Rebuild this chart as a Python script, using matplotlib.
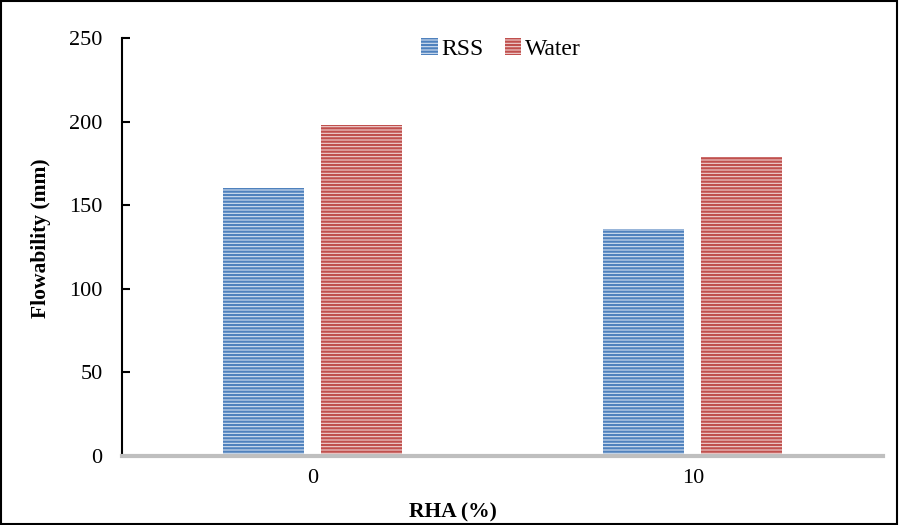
import matplotlib.pyplot as plt
from matplotlib.patches import Rectangle
import numpy as np

# dados
categories = ["0", "10"]
rss = [160, 136]
water = [198, 179]
yticks = [0, 50, 100, 150, 200, 250]

plt.rcParams['font.family'] = ['Liberation Serif', 'DejaVu Serif']
plt.rcParams['hatch.linewidth'] = 1.6

fig = plt.figure(figsize=(8.99, 5.25), dpi=100)
ax = fig.add_axes([0.1357, 0.1314, 0.8465, 0.7962])

x = np.arange(len(categories))
w = 0.213
off = 0.129

b1 = ax.bar(x - off, rss, w, color='#d3e0f0', edgecolor='#4f81bd', hatch='-----',
            linewidth=0, label='RSS')
b2 = ax.bar(x + off, water, w, color='#f0d2d1', edgecolor='#c0504d', hatch='-----',
            linewidth=0, label='Water')

ax.set_xlim(-0.5, 1.5)
ax.set_ylim(0, 250)
ax.set_yticks(yticks)
ax.set_xticks(x)
ax.set_xticklabels(categories)

ax.spines['top'].set_visible(False)
ax.spines['right'].set_visible(False)
ax.spines['left'].set_linewidth(1.5)
ax.spines['bottom'].set_color('#bfbfbf')
ax.spines['bottom'].set_linewidth(3)
ax.tick_params(axis='y', direction='in', length=6, width=1.5, labelsize=16, pad=14)
ax.tick_params(axis='x', length=0, labelsize=16, pad=9)

ax.set_ylabel('Flowability (mm)', fontsize=15.5, fontweight='bold')
ax.yaxis.set_label_coords(-0.093, 0.52)
ax.set_xlabel('RHA (%)', fontsize=15.5, fontweight='bold')
ax.xaxis.set_label_coords(0.435, -0.11)

ax.legend(loc='upper center', bbox_to_anchor=(0.498, 1.05), ncol=2, frameon=False,
          fontsize=17, handlelength=0.7, handleheight=0.7, handletextpad=0.15,
          columnspacing=0.9)

# moldura da figura
fig.patches.append(Rectangle((0.001, 0.001), 0.997, 0.997, transform=fig.transFigure,
                             fill=False, edgecolor='black', linewidth=1.5))

plt.savefig('out.png', dpi=100)
